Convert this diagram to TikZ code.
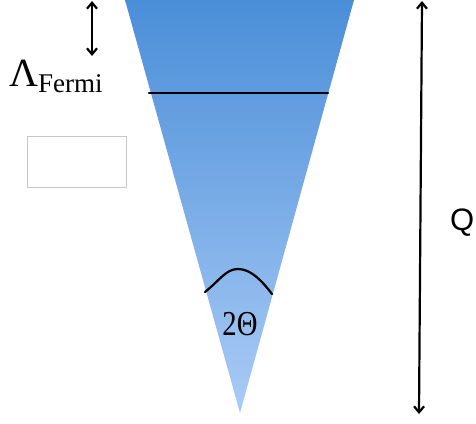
\documentclass[tikz,border=0pt]{standalone}
\usepackage{fontspec}
\setmainfont{Liberation Serif}
\newfontfamily\qfont{Liberation Sans}
\usetikzlibrary{arrows.meta}
\definecolor{conetop}{HTML}{4A8ED8}
\definecolor{conebot}{HTML}{AACBF6}
\tikzset{
  dimarrow/.style={line width=2.2pt, {Straight Barb[length=6pt,width=10pt]}-{Straight Barb[length=6pt,width=10pt]}},
  cutline/.style={line width=2.2pt, line cap=round},
  emptybox/.style={draw=black!22, line width=0.8pt}
}
\begin{document}
\begin{tikzpicture}[x=1pt,y=-1pt]
    \useasboundingbox (0,0) rectangle (476,423);

    % Cone
    \shade[top color=conetop, bottom color=conebot, shading angle=0]
        (125,0) -- (354,0) -- (240,413) -- cycle;
    \draw[cutline] (149,93) -- (328,93);
    \draw[cutline] (205,292) .. controls (220,280) and (226,269) .. (238,269)
        .. controls (251,269) and (262,281) .. (272,294);
    \node[font=\fontsize{35}{35}\selectfont, xscale=0.82, anchor=base] (angle) at (240,335) {2Θ};

    % Labels
    \coordinate (fermitop) at (92,1);
    \coordinate (fermibot) at (92,56);
    \draw[dimarrow] (fermitop) -- (fermibot);
    \node[anchor=base west, inner sep=0pt] (fermi) at (9,86)
        {{\fontsize{40}{40}\selectfont Λ}{\fontsize{27}{27}\selectfont\raisebox{-6pt}{Fermi}}};
    \node[emptybox, minimum width=99pt, minimum height=51pt, anchor=north west] (box) at (27,136) {};

    \coordinate (qtop) at (422,1);
    \coordinate (qbot) at (419,414);
    \draw[dimarrow] (qtop) -- (qbot);
    \node[font=\qfont\fontsize{31}{31}\selectfont, anchor=base west, inner sep=0pt] (q) at (450,230) {Q};
\end{tikzpicture}
\end{document}
